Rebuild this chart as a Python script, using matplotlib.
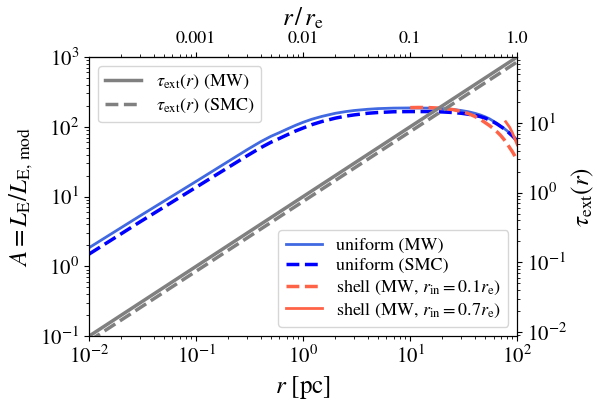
import matplotlib
matplotlib.use("Agg")
import matplotlib.pyplot as plt

plt.rcParams['font.family'] = ['STIXGeneral', 'Liberation Serif', 'DejaVu Serif']
plt.rcParams['mathtext.fontset'] = 'stix'

# rayon en pc, r_e = 100 pc
r_e = 100.

# extinction tau_ext(r), droites en log-log
r_tau = [0.01, 100.]
tau_mw = [0.0088, 88.]
tau_smc = [0.0075, 75.]

# uniforme (MW) et (SMC)
r_uni = [0.01, 0.03, 0.1, 0.3, 0.4, 0.5, 0.6, 0.7, 0.85, 1., 1.2, 1.5, 2., 2.5, 3., 4., 5., 7., 10.,
         15., 20., 25., 30., 35., 40., 45., 50., 55., 60., 65., 70., 75., 80., 85., 90., 95., 100.]
A_uni_mw = [1.85, 5.3, 16.5, 47., 61., 73., 82.5, 92., 105., 116., 128., 141., 156., 165., 171., 178.,
            182., 185., 186., 185., 182., 177., 171., 164., 156., 148., 139., 130., 120., 111., 102.,
            95., 88., 81., 74., 68., 62.]
A_uni_smc = [1.5, 4.35, 13.6, 38.5, 50., 60., 68., 76., 87., 96., 107., 119., 133., 142., 148., 156.,
             160., 164., 165., 165., 163., 160., 156., 151., 146., 140., 133., 125., 117., 109., 101.,
             94., 87., 80., 74., 68., 62.]

# coquille, r_in = 0.1 r_e
r_sh1 = [10., 12., 15., 20., 25., 30., 35., 40., 45., 50., 55., 60., 65., 70., 75., 80., 85., 90., 95., 100.]
A_sh1 = [188., 189., 188., 184., 176., 166., 154., 141., 128., 115., 104., 94., 84., 75., 66., 58., 50.,
         44., 38., 33.]

# coquille, r_in = 0.7 r_e
r_sh7 = [78., 85., 90., 95., 100.]
A_sh7 = [118., 98., 82., 67., 55.]

fig = plt.figure(figsize=(5.98, 4.04), dpi=100)
ax = fig.add_axes([0.149, 0.168, 0.716, 0.691])

ax.plot(r_uni, A_uni_mw, '-', color='royalblue', lw=2, label='uniform (MW)')
ax.plot(r_uni, A_uni_smc, '--', color='blue', lw=2.5, label='uniform (SMC)')
ax.plot(r_sh1, A_sh1, '--', color='tomato', lw=2.5, label=r'shell (MW, $r_{\rm in} = 0.1 r_{\rm e}$)')
ax.plot(r_sh7, A_sh7, '-', color='tomato', lw=2, label=r'shell (MW, $r_{\rm in} = 0.7 r_{\rm e}$)')

ax.set_xscale('log')
ax.set_yscale('log')
ax.set_xlim(1e-2, 1e2)
ax.set_ylim(1e-1, 1e3)
ax.set_xlabel(r'$r$ [pc]', fontsize=18)
ax.set_ylabel(r'$A = L_{\rm E}/L_{\rm E,\,mod}$', fontsize=18)
ax.tick_params(labelsize=15)
ax.legend(loc='lower right', fontsize=13, labelspacing=0.2)

# axe de droite : tau_ext
ax2 = ax.twinx()
ax2.plot(r_tau, tau_mw, '-', color='gray', lw=2.5, label=r'$\tau_{\rm ext}(r)$ (MW)')
ax2.plot(r_tau, tau_smc, '--', color='gray', lw=2.5, label=r'$\tau_{\rm ext}(r)$ (SMC)')
ax2.set_yscale('log')
ax2.set_ylim(0.0088, 88)
ax2.set_ylabel(r'$\tau_{\rm ext}(r)$', fontsize=18, labelpad=2)
ax2.tick_params(labelsize=15)
ax2.legend(loc='upper left', fontsize=13, labelspacing=0.3)

# axe du haut : r / r_e
top = ax.secondary_xaxis('top', functions=(lambda x: x / r_e, lambda x: x * r_e))
top.set_xticks([0.001, 0.01, 0.1, 1.0])
top.set_xticklabels(['0.001', '0.01', '0.1', '1.0'])
top.set_xlabel(r'$r\,/\,r_{\rm e}$', fontsize=18)
top.tick_params(labelsize=13)

fig.savefig('out.png', dpi=100)
